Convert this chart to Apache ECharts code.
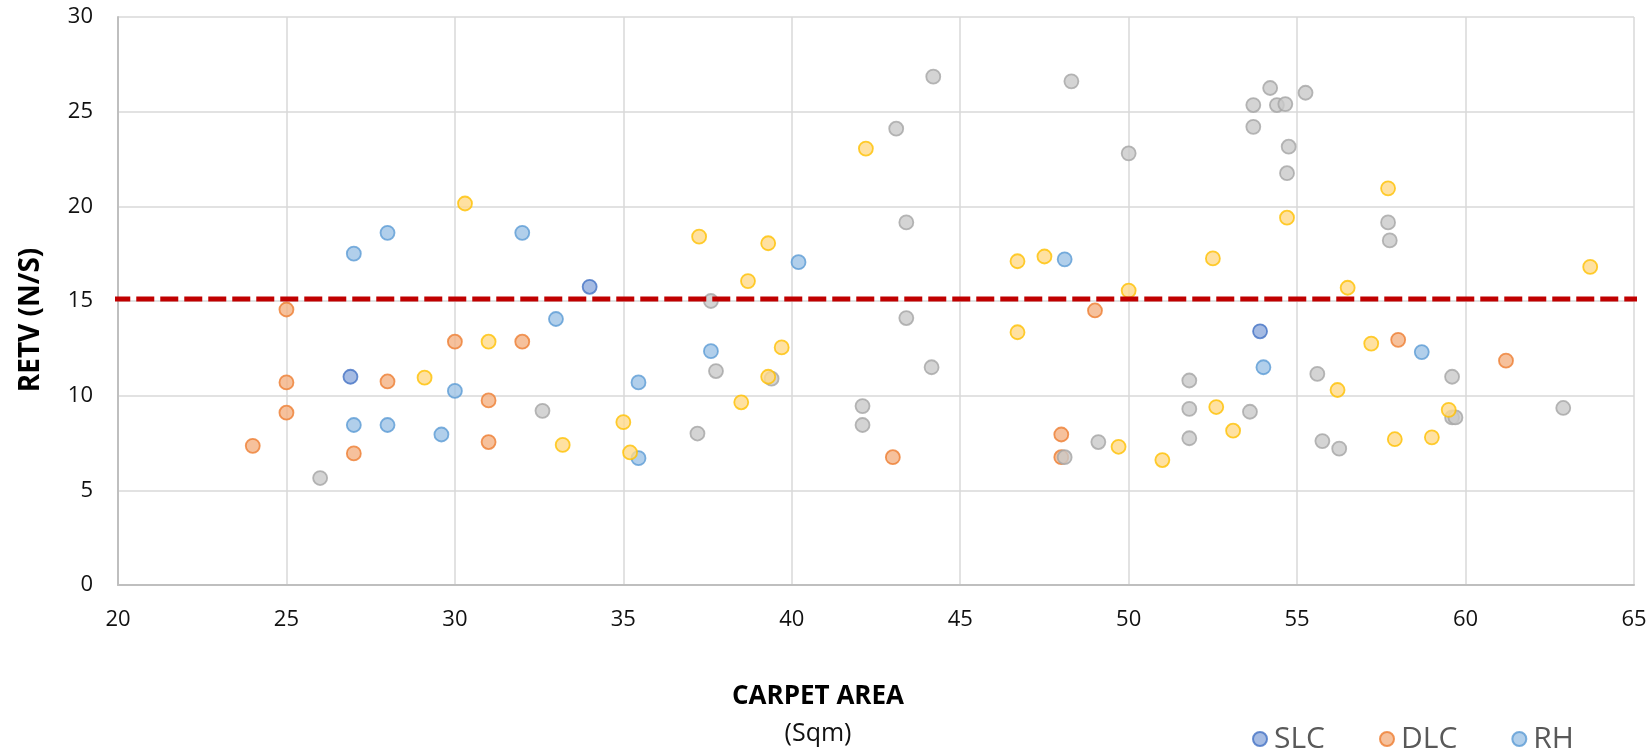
<!DOCTYPE html>
<html>
<head>
<meta charset="utf-8">
<title>RETV vs Carpet Area</title>
<script src="https://cdn.jsdelivr.net/npm/echarts@6/dist/echarts.min.js"></script>
<style>
  html, body { margin: 0; padding: 0; background: #ffffff; }
  #chart { width: 1650px; height: 752px; }
</style>
</head>
<body>
<div id="chart"></div>
<script>
// Carpet area (sqm) against RETV (N/S), one array of [area, retv] per housing type
const slc = [[26.9, 11.0], [34, 15.75], [53.9, 13.4]];

const dlc = [
  [24, 7.35], [25, 14.55], [25, 10.7], [25, 9.1], [27, 6.95], [28, 10.75],
  [30, 12.85], [31, 9.75], [31, 7.55], [32, 12.85], [43, 6.75], [48, 7.95],
  [48, 6.75], [49, 14.5], [58, 12.95], [61.2, 11.85]
];

const rh = [
  [27, 17.5], [28, 18.6], [32, 18.6], [27, 8.45], [28, 8.45], [29.6, 7.95],
  [30, 10.25], [33, 14.05], [35.45, 10.7], [35.45, 6.7], [37.6, 12.35],
  [40.2, 17.05], [48.1, 17.2], [54, 11.5], [58.7, 12.3]
];

const greyGroup = [
  [26, 5.65], [32.6, 9.2], [37.2, 8.0], [37.6, 15.0], [37.75, 11.3], [39.4, 10.9],
  [42.1, 9.45], [42.1, 8.45], [43.1, 24.1], [43.4, 19.15], [43.4, 14.1],
  [44.2, 26.85], [44.15, 11.5], [48.3, 26.6], [48.1, 6.75], [49.1, 7.55],
  [50, 22.8], [51.8, 10.8], [51.8, 9.3], [51.8, 7.75], [53.6, 9.15],
  [53.7, 25.35], [53.7, 24.2], [54.2, 26.25], [54.4, 25.35], [54.65, 25.4],
  [55.25, 26.0], [54.75, 23.15], [54.7, 21.75], [55.6, 11.15], [55.75, 7.6],
  [56.25, 7.2], [57.7, 19.15], [57.75, 18.2], [59.6, 11.0], [59.6, 8.85],
  [59.7, 8.85], [62.9, 9.35]
];

const goldGroup = [
  [29.1, 10.95], [30.3, 20.15], [31, 12.85], [33.2, 7.4], [35, 8.6], [35.2, 7.0],
  [37.25, 18.4], [38.7, 16.05], [39.3, 18.05], [39.7, 12.55], [39.3, 11.0],
  [38.5, 9.65], [42.2, 23.05], [46.7, 17.1], [46.7, 13.35], [47.5, 17.35],
  [50, 15.55], [49.7, 7.3], [51, 6.6], [52.5, 17.25], [52.6, 9.4], [53.1, 8.15],
  [54.7, 19.4], [56.5, 15.7], [56.2, 10.3], [57.2, 12.75], [57.7, 20.95],
  [57.9, 7.7], [59, 7.8], [59.5, 9.25], [63.7, 16.8]
];

// Benchmark RETV level, drawn slightly past both ends of the x range
const benchmark = [[19.83, 15.1], [65.33, 15.1]];

const xTicks = { min: 20, max: 65, step: 5 };
const yTicks = { min: 0, max: 30, step: 5 };

const FONT = '"Open Sans", "Liberation Sans", sans-serif';

function scatter(name, data, fill, border) {
  return {
    name: name,
    type: 'scatter',
    data: data,
    symbol: 'circle',
    symbolSize: 14,
    itemStyle: { color: fill, borderColor: border, borderWidth: 1.8 },
    emphasis: { disabled: true }
  };
}

const chart = echarts.init(document.getElementById('chart'), null, { renderer: 'canvas' });

chart.setOption({
  animation: false,
  backgroundColor: '#ffffff',
  grid: { left: 118, right: 16, top: 17, bottom: 167, containLabel: false },
  xAxis: {
    type: 'value',
    min: xTicks.min, max: xTicks.max, interval: xTicks.step,
    axisLine: { show: true, lineStyle: { color: '#BFBFBF', width: 2 } },
    axisTick: { show: false },
    splitLine: { show: true, lineStyle: { color: '#D9D9D9', width: 1.5 } },
    axisLabel: { color: '#111111', fontFamily: FONT, fontSize: 22, margin: 24 }
  },
  yAxis: {
    type: 'value',
    min: yTicks.min, max: yTicks.max, interval: yTicks.step,
    axisLine: { show: true, lineStyle: { color: '#BFBFBF', width: 2 } },
    axisTick: { show: false },
    splitLine: { show: true, lineStyle: { color: '#D9D9D9', width: 1.5 } },
    axisLabel: { color: '#111111', fontFamily: FONT, fontSize: 22, margin: 25 }
  },
  legend: {
    data: ['SLC', 'DLC', 'RH'],
    left: 1247,
    top: 719,
    itemWidth: 14,
    itemHeight: 14,
    itemGap: 54,
    icon: 'circle',
    textStyle: { color: '#595959', fontFamily: FONT, fontSize: 30, padding: [0, 0, 0, 2] },
    selectedMode: false
  },
  graphic: [
    {
      type: 'text',
      style: {
        text: 'CARPET AREA', x: 818, y: 697, align: 'center', verticalAlign: 'middle',
        font: 'bold 26px ' + FONT, fill: '#000000'
      }
    },
    {
      type: 'text',
      style: {
        text: '(Sqm)', x: 818, y: 734, align: 'center', verticalAlign: 'middle',
        font: '25px ' + FONT, fill: '#111111'
      }
    },
    {
      type: 'text', x: 31, y: 320, rotation: Math.PI / 2,
      style: {
        text: 'RETV (N/S)', x: 0, y: 0, align: 'center', verticalAlign: 'middle',
        font: 'bold 28px ' + FONT, fill: '#000000'
      }
    }
  ],
  series: [
    scatter('SLC', slc, '#8FAADC', '#4472C4'),
    scatter('DLC', dlc, '#F4B183', '#ED7D31'),
    scatter('RH', rh, '#9DC3E6', '#5B9BD5'),
    scatter('HH', greyGroup, '#C9C9C9', '#A5A5A5'),
    scatter('MH', goldGroup, '#FFD98A', '#FFC000'),
    {
      name: 'Benchmark',
      type: 'line',
      data: benchmark,
      symbol: 'none',
      clip: false,
      silent: true,
      lineStyle: { color: '#C00000', width: 5, type: [18, 6] },
      z: 5
    }
  ]
});
</script>
</body>
</html>
